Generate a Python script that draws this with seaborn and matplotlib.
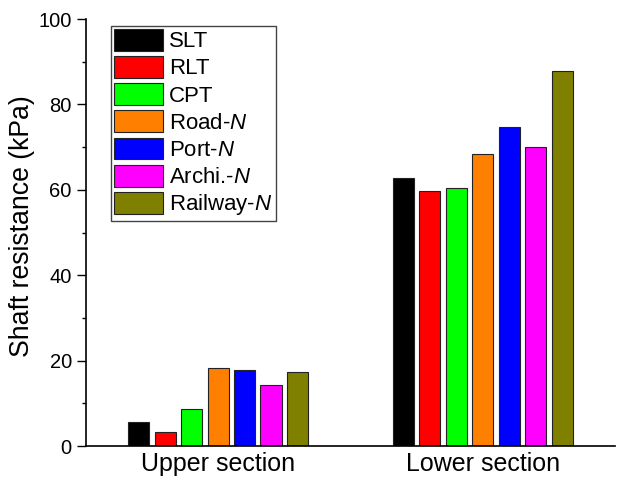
import matplotlib
matplotlib.use("Agg")
import matplotlib.pyplot as plt
import seaborn as sns
import pandas as pd
from matplotlib.ticker import MultipleLocator

sections = ["Upper section", "Lower section"]
methods = ["SLT", "RLT", "CPT", "Road-$\\it{N}$", "Port-$\\it{N}$", "Archi.-$\\it{N}$", "Railway-$\\it{N}$"]
upper_vals = [5.7, 3.2, 8.6, 18.3, 17.7, 14.2, 17.3]
lower_vals = [62.8, 59.7, 60.5, 68.4, 74.8, 70.0, 87.9]
colors = ["#000000", "#FF0000", "#00FF00", "#FF8000", "#0000FF", "#FF00FF", "#808000"]

rows = []
for m, u, l in zip(methods, upper_vals, lower_vals):
    rows.append({"section": sections[0], "method": m, "value": u})
    rows.append({"section": sections[1], "method": m, "value": l})
df = pd.DataFrame(rows)

sns.set_style("ticks")
plt.rcParams['font.family'] = ['Liberation Sans', 'DejaVu Sans']
plt.rcParams['mathtext.fontset'] = 'custom'
plt.rcParams['mathtext.it'] = 'Liberation Sans:italic'
plt.rcParams['mathtext.rm'] = 'Liberation Sans'

fig = plt.figure(figsize=(6.17, 4.84), dpi=100)
ax = fig.add_axes([0.139, 0.0785, 0.858, 0.882])

sns.barplot(data=df, x="section", y="value", hue="method", order=sections,
            hue_order=methods, palette=colors, saturation=1, width=0.7, gap=0.2,
            edgecolor="#222222", linewidth=0.8, ax=ax, errorbar=None)

ax.set_xlim(-0.5, 1.5)
ax.set_ylim(0, 100)
ax.yaxis.set_major_locator(MultipleLocator(20))
ax.yaxis.set_minor_locator(MultipleLocator(10))
ax.tick_params(axis='y', which='major', length=6.5, width=1, labelsize=14.5, direction='out', colors='black')
ax.tick_params(axis='y', which='minor', length=3, width=1, direction='out', colors='black')
ax.tick_params(axis='x', length=0, labelsize=18, pad=4, colors='black')
ax.set_xlabel("")
ax.set_ylabel("Shaft resistance (kPa)", fontsize=19.2, color='black')
ax.yaxis.set_label_coords(-0.0964, 0.516)
for s in ["top", "right"]:
    ax.spines[s].set_visible(False)
for s in ["left", "bottom"]:
    ax.spines[s].set_linewidth(1.2)
    ax.spines[s].set_color("black")

leg = ax.legend(loc="upper left", bbox_to_anchor=(0.047, 0.985), fontsize=16,
                frameon=True, fancybox=False, framealpha=1, edgecolor="#444444",
                handlelength=2.2, handleheight=1.13, labelspacing=0.17,
                handletextpad=0.27, borderpad=0.15, borderaxespad=0)
leg.get_frame().set_linewidth(1.0)
for t in leg.get_texts():
    t.set_color('black')

fig.savefig("out.png", dpi=100)
